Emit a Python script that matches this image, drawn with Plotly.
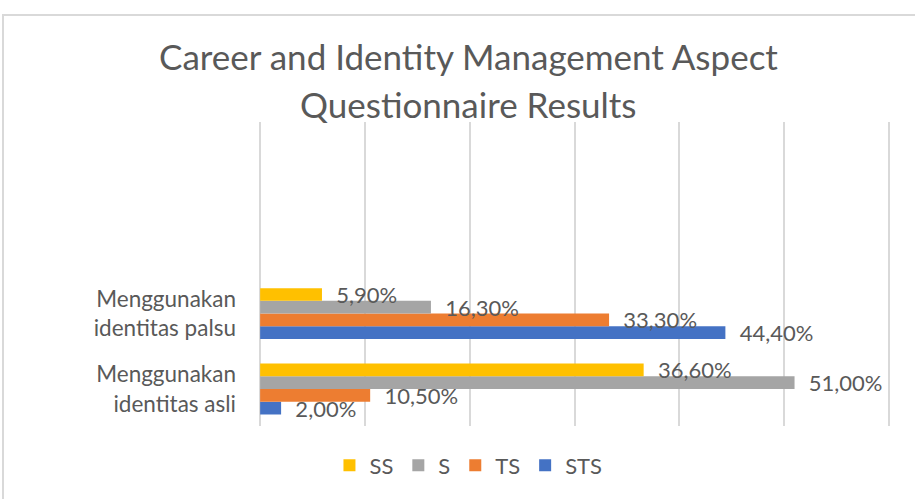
import plotly.graph_objects as go

categories = ["Menggunakan<br>identitas asli", "Menggunakan<br>identitas palsu"]
series_names = ["STS", "TS", "S", "SS"]
sts_values = [0.020, 0.444]
ts_values = [0.105, 0.333]
s_values = [0.510, 0.163]
ss_values = [0.366, 0.059]
colors = {"SS": "#FFC000", "S": "#A5A5A5", "TS": "#ED7D31", "STS": "#4472C4"}
values = {"STS": sts_values, "TS": ts_values, "S": s_values, "SS": ss_values}
title_lines = ["Career and Identity Management Aspect", "Questionnaire Results"]

FONT = "Lato"
GREY = "#595959"

fig = go.Figure()
for name in series_names:
    fig.add_trace(go.Bar(
        y=categories, x=values[name], name=name, orientation="h",
        marker=dict(color=colors[name], line=dict(width=0)),
        texttemplate="\u00a0\u00a0%{x:.2%}", textposition="outside",
        constraintext="none", cliponaxis=False,
        textfont=dict(family=FONT, size=22, color=GREY),
    ))

fig.update_layout(
    width=915, height=499,
    margin=dict(l=257, r=23, t=122, b=67),
    paper_bgcolor="white", plot_bgcolor="white",
    barmode="group", bargap=0.325, bargroupgap=0,
    separators=",.",
    font=dict(family=FONT, color=GREY),
    xaxis=dict(range=[-0.003, 0.603], tickvals=[0, 0.1, 0.2, 0.3, 0.4, 0.5, 0.6],
               showticklabels=False, showgrid=True,
               gridcolor="#D9D9D9", gridwidth=1.5, zeroline=False, showline=False, ticks=""),
    yaxis=dict(range=[-0.49, 3.54], showgrid=False, zeroline=False, showline=False,
               ticks="", ticklabelstandoff=20, tickfont=dict(family=FONT, size=22.5, color=GREY)),
    showlegend=True,
    legend=dict(orientation="h", traceorder="reversed", x=0.333, xanchor="center",
                y=-0.13, yanchor="middle", font=dict(family=FONT, size=22, color=GREY)),
)

for i, line in enumerate(title_lines):
    fig.add_annotation(text=line, xref="paper", yref="paper", x=0.333, y=[1.217, 1.058][i],
                       xanchor="center", yanchor="middle", showarrow=False,
                       font=dict(family=FONT, size=35, color=GREY))

fig.add_shape(type="rect", xref="paper", yref="paper", x0=-0.4, x1=1.04, y0=-0.5, y1=1.352,
              line=dict(color="#D9D9D9", width=2), fillcolor="rgba(0,0,0,0)", layer="below")

fig.write_html("out.html", config={"displayModeBar": False},
               post_script="document.body.style.margin='0';document.body.style.overflow='hidden';")
